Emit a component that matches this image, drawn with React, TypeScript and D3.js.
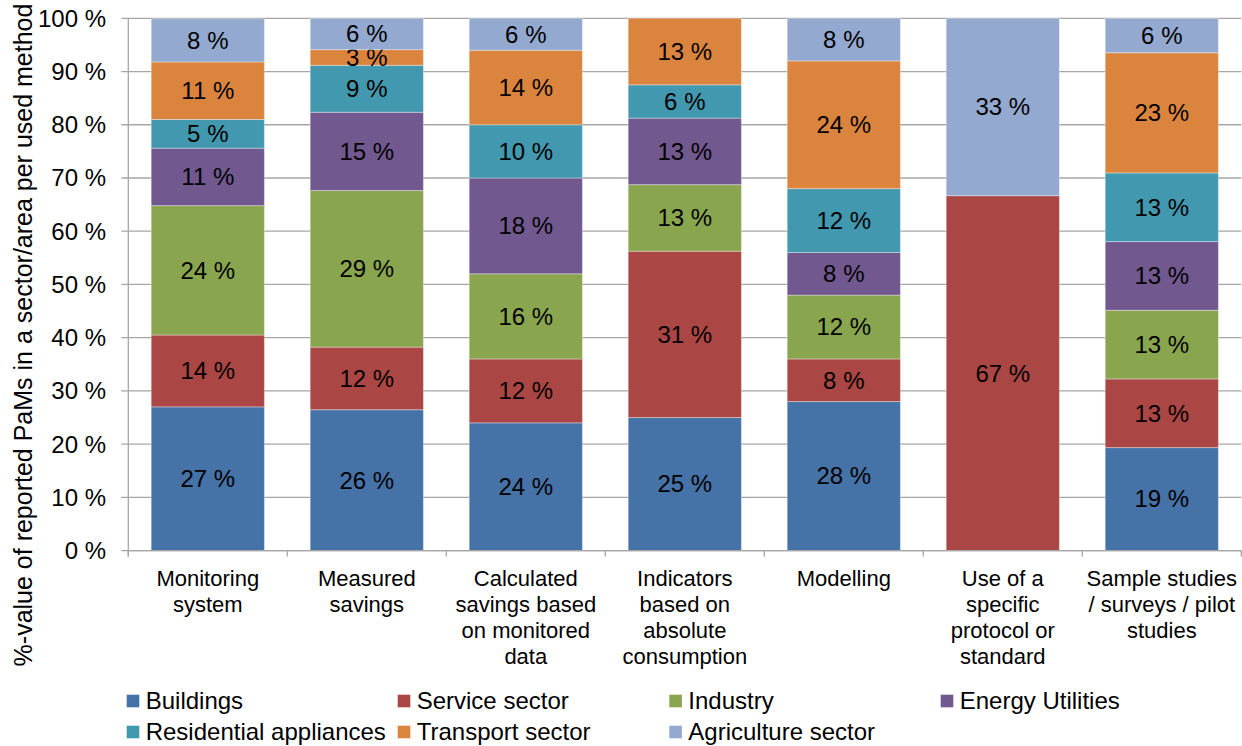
import React from "react";
import * as d3 from "d3";

const categories: string[][] = [
  ["Monitoring", "system"],
  ["Measured", "savings"],
  ["Calculated", "savings based", "on monitored", "data"],
  ["Indicators", "based on", "absolute", "consumption"],
  ["Modelling"],
  ["Use of a", "specific", "protocol or", "standard"],
  ["Sample studies", "/ surveys / pilot", "studies"],
];

const seriesNames = [
  "Buildings",
  "Service sector",
  "Industry",
  "Energy Utilities",
  "Residential appliances",
  "Transport sector",
  "Agriculture sector",
];

const buildings = [27.0, 26.47, 24, 25, 28, 0, 19.35];
const serviceSector = [13.5, 11.76, 12, 31.25, 8, 66.67, 12.9];
const industry = [24.3, 29.41, 16, 12.5, 12, 0, 12.9];
const energyUtilities = [10.8, 14.71, 18, 12.5, 8, 0, 12.9];
const residentialAppliances = [5.4, 8.82, 10, 6.25, 12, 0, 12.9];
const transportSector = [10.8, 2.94, 14, 12.5, 24, 0, 22.58];
const agricultureSector = [8.1, 5.88, 6, 0, 8, 33.33, 6.45];

const yTicks = [0, 10, 20, 30, 40, 50, 60, 70, 80, 90, 100];

const colors = ["#4572A7", "#AA4643", "#89A54E", "#71588F", "#4198AF", "#DB843D", "#93A9CF"];

const allSeries = [
  buildings,
  serviceSector,
  industry,
  energyUtilities,
  residentialAppliances,
  transportSector,
  agricultureSector,
];

export default function App() {
  const W = 1242;
  const H = 746;
  const left = 128.3;
  const right = 1241.3;
  const top = 18.3;
  const bottom = 550.6;
  const font = "'Liberation Sans', Arial, sans-serif";

  const x = d3
    .scaleBand<number>()
    .domain(d3.range(categories.length))
    .range([left, right])
    .paddingInner(0.288)
    .paddingOuter(0.144);
  const y = d3.scaleLinear().domain([0, 100]).range([bottom, top]);

  const rows = categories.map((_, i) => {
    const r: any = { i };
    seriesNames.forEach((s, k) => (r[s] = allSeries[k][i]));
    return r;
  });
  const stack = d3.stack<any>().keys(seriesNames)(rows);

  const step = (right - left) / categories.length;

  const legendCols = [126.7, 397.7, 669.3, 940.7];
  const legendPos = seriesNames.map((_, k) => ({
    x: legendCols[k < 4 ? k : k - 4],
    y: k < 4 ? 701 : 732,
  }));

  return (
    <svg width={W} height={H} style={{ position: "absolute", left: 0, top: 0, fontFamily: font }}>
      <rect width={W} height={H} fill="#fff" />
      {yTicks.map((t) => (
        <g key={t}>
          <line x1={left - 7} x2={right} y1={y(t)} y2={y(t)} stroke="#a6a6a6" strokeWidth={1.3} />
          <text x={106} y={y(t)} dy="0.35em" textAnchor="end" fontSize={24} fill="#000">
            {t} %
          </text>
        </g>
      ))}
      {stack.map((layer, k) => (
        <g key={k}>
          {layer.map((d, i) => {
            const h = y(d[0]) - y(d[1]);
            if (h <= 0) return null;
            return (
              <g key={i}>
                <rect
                  x={x(i)}
                  y={y(d[1])}
                  width={x.bandwidth()}
                  height={h}
                  fill={colors[k]}
                  stroke="rgba(255,255,255,0.35)"
                  strokeWidth={1}
                />
                <text
                  x={(x(i) as number) + x.bandwidth() / 2}
                  y={y((d[0] + d[1]) / 2)}
                  dy="0.35em"
                  textAnchor="middle"
                  fontSize={24}
                  fill="#000"
                >
                  {Math.round(d[1] - d[0])} %
                </text>
              </g>
            );
          })}
        </g>
      ))}
      <line x1={left} x2={left} y1={top} y2={bottom + 6} stroke="#a6a6a6" strokeWidth={1.3} />
      <line x1={left} x2={right} y1={bottom} y2={bottom} stroke="#a6a6a6" strokeWidth={1.3} />
      {d3.range(categories.length + 1).map((i) => (
        <line
          key={i}
          x1={left + i * step}
          x2={left + i * step}
          y1={bottom}
          y2={bottom + 6}
          stroke="#a6a6a6"
          strokeWidth={1.3}
        />
      ))}
      {categories.map((lines, i) => (
        <text key={i} textAnchor="middle" fontSize={22} fill="#000">
          {lines.map((l, j) => (
            <tspan key={j} x={(x(i) as number) + x.bandwidth() / 2} y={586 + j * 26}>
              {l}
            </tspan>
          ))}
        </text>
      ))}
      <text
        transform={`translate(32, 335) rotate(-90)`}
        textAnchor="middle"
        fontSize={25}
        fill="#000"
      >
        %-value of reported PaMs in a sector/area per used method
      </text>
      {seriesNames.map((s, k) => (
        <g key={s}>
          <rect x={legendPos[k].x} y={legendPos[k].y - 6.3} width={12.6} height={12.6} fill={colors[k]} />
          <text x={legendPos[k].x + 19} y={legendPos[k].y} dy="0.35em" fontSize={24} fill="#000">
            {s}
          </text>
        </g>
      ))}
    </svg>
  );
}
